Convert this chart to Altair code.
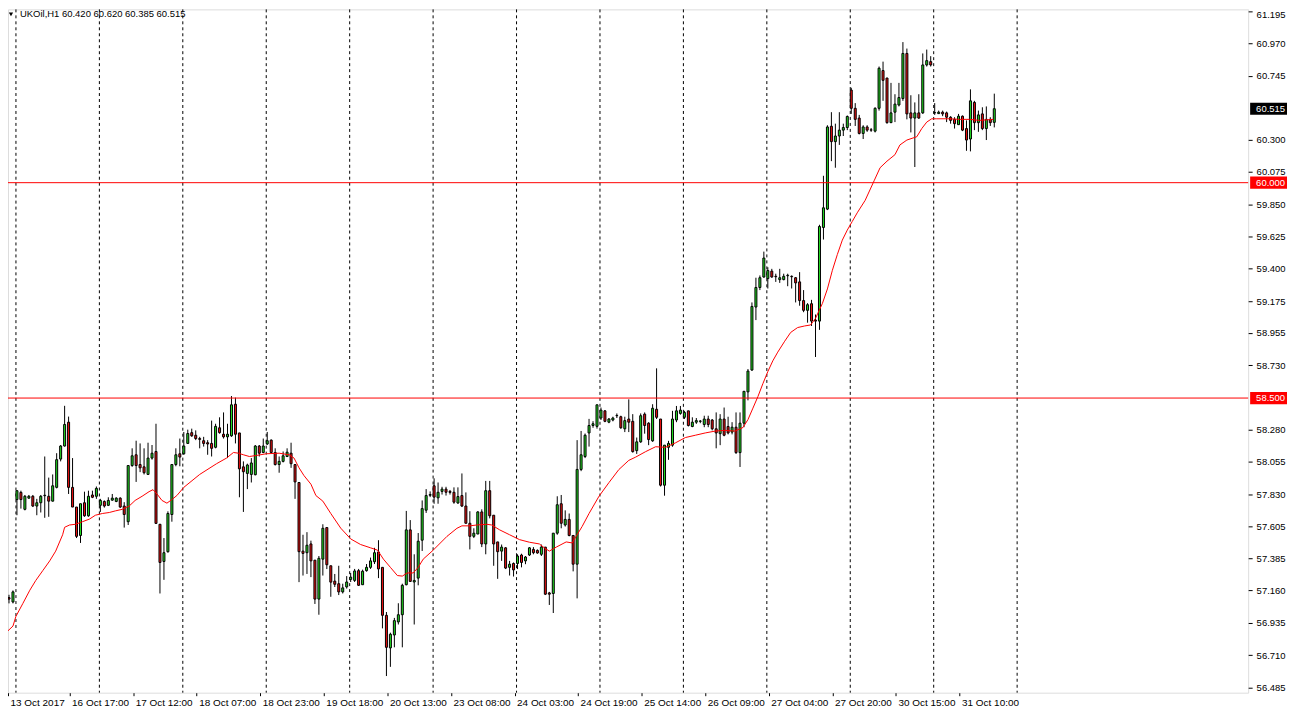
import altair as alt
import pandas as pd

# ---------------- data ----------------
opens = [57.11, 57.08, 57.793, 57.843, 57.725, 57.803, 57.816, 57.748, 57.771, 57.820,
         57.816, 57.782, 57.878, 58.075, 58.166, 58.332, 57.878, 57.741, 57.543, 57.771,
         57.680, 57.825, 57.816, 57.753, 57.780, 57.753, 57.789, 57.780, 57.803, 57.748,
         57.639, 58.030, 58.105, 58.037, 58.021, 57.968, 58.082, 58.128, 57.621, 57.362,
         57.430, 57.689, 58.037, 58.112, 58.112, 58.184, 58.259, 58.241, 58.218, 58.203,
         58.189, 58.184, 58.157, 58.293, 58.248, 58.230, 58.237, 58.457, 58.257, 58.021,
         57.975, 57.968, 57.966, 58.166, 58.121, 58.180, 58.207, 58.121, 58.037, 58.059,
         58.093, 58.116, 58.037, 57.912, 57.434, 57.423, 57.484, 57.371, 57.100, 57.378,
         57.598, 57.332, 57.225, 57.207, 57.150, 57.185, 57.237, 57.230, 57.298, 57.200,
         57.298, 57.321, 57.360, 57.428, 57.321, 56.987, 56.760, 56.850, 56.941, 56.991,
         57.200, 57.582, 57.219, 57.246, 57.510, 57.719, 57.823, 57.889, 57.805, 57.850,
         57.866, 57.850, 57.844, 57.769, 57.821, 57.748, 57.628, 57.537, 57.553, 57.707,
         57.484, 57.855, 57.684, 57.498, 57.434, 57.457, 57.321, 57.348, 57.348, 57.407,
         57.366, 57.407, 57.446, 57.439, 57.412, 57.462, 57.143, 57.139, 57.559, 57.764,
         57.616, 57.655, 57.543, 57.343, 58.003, 58.093, 58.257, 58.309, 58.303, 58.361,
         58.411, 58.332, 58.347, 58.377, 58.370, 58.286, 58.354, 58.338, 58.134, 58.195,
         58.388, 58.325, 58.202, 58.422, 58.354, 57.893, 58.157, 58.172, 58.347, 58.393,
         58.366, 58.411, 58.302, 58.332, 58.338, 58.316, 58.354, 58.347, 58.286, 58.252,
         58.354, 58.302, 58.263, 58.297, 58.120, 58.325, 58.543, 58.695, 59.134, 59.270,
         59.343, 59.332, 59.384, 59.348, 59.325, 59.325, 59.352, 59.348, 59.338, 59.309,
         59.179, 59.111, 59.157, 59.043, 59.036, 59.688, 59.816, 60.393, 60.286, 60.325,
         60.366, 60.384, 60.645, 60.518, 60.450, 60.343, 60.388, 60.368, 60.359, 60.518,
         60.781, 60.729, 60.418, 60.491, 60.541, 60.586, 60.900, 60.486, 60.450, 60.486,
         60.486, 60.820, 60.843, 60.486, 60.481, 60.491, 60.486, 60.456, 60.441, 60.404,
         60.463, 60.377, 60.304, 60.559, 60.418, 60.479, 60.377, 60.441, 60.420]
highs = [57.13, 57.16, 57.855, 57.855, 57.825, 57.825, 57.825, 57.798, 57.825, 58.093,
         57.946, 57.968, 58.116, 58.173, 58.446, 58.371, 58.082, 57.741, 57.764, 57.848,
         57.855, 57.855, 57.884, 57.798, 57.787, 57.809, 57.832, 57.809, 57.809, 57.775,
         58.030, 58.150, 58.203, 58.184, 58.150, 58.189, 58.173, 58.321, 57.621, 57.525,
         57.711, 58.037, 58.150, 58.218, 58.264, 58.280, 58.287, 58.275, 58.230, 58.230,
         58.207, 58.343, 58.321, 58.366, 58.400, 58.321, 58.514, 58.503, 58.257, 58.059,
         58.043, 58.082, 58.173, 58.173, 58.218, 58.264, 58.212, 58.150, 58.093, 58.128,
         58.150, 58.189, 58.037, 57.912, 57.548, 57.566, 57.507, 57.371, 57.400, 57.621,
         57.598, 57.332, 57.275, 57.332, 57.207, 57.260, 57.282, 57.310, 57.310, 57.305,
         57.344, 57.389, 57.457, 57.510, 57.321, 57.010, 56.866, 56.969, 57.071, 57.207,
         57.714, 57.650, 57.412, 57.560, 57.787, 57.866, 57.850, 57.941, 57.912, 57.882,
         57.882, 57.860, 57.878, 57.878, 57.975, 57.843, 57.712, 57.593, 57.712, 57.725,
         57.923, 57.923, 57.684, 57.498, 57.480, 57.462, 57.366, 57.355, 57.412, 57.416,
         57.400, 57.462, 57.462, 57.446, 57.480, 57.462, 57.150, 57.559, 57.816, 57.825,
         57.718, 57.696, 57.543, 58.207, 58.271, 58.253, 58.355, 58.339, 58.453, 58.434,
         58.416, 58.361, 58.370, 58.393, 58.377, 58.370, 58.491, 58.388, 58.225, 58.393,
         58.400, 58.332, 58.457, 58.707, 58.354, 58.172, 58.202, 58.411, 58.445, 58.445,
         58.411, 58.411, 58.366, 58.361, 58.347, 58.377, 58.377, 58.354, 58.400, 58.388,
         58.434, 58.370, 58.332, 58.400, 58.400, 58.547, 58.702, 59.166, 59.338, 59.354,
         59.520, 59.411, 59.400, 59.366, 59.400, 59.366, 59.366, 59.354, 59.343, 59.377,
         59.252, 59.161, 59.184, 59.082, 59.707, 60.048, 60.400, 60.491, 60.411, 60.491,
         60.411, 60.468, 60.661, 60.554, 60.472, 60.400, 60.400, 60.381, 60.525, 60.809,
         60.843, 60.729, 60.695, 60.616, 60.695, 60.979, 60.934, 60.609, 60.559, 60.616,
         60.900, 60.927, 60.881, 60.554, 60.502, 60.502, 60.495, 60.463, 60.456, 60.479,
         60.468, 60.434, 60.650, 60.570, 60.502, 60.525, 60.531, 60.456, 60.620]
lows = [57.07, 57.07, 57.684, 57.730, 57.718, 57.798, 57.741, 57.684, 57.703, 57.666,
        57.673, 57.780, 57.871, 58.059, 58.162, 57.832, 57.741, 57.525, 57.491, 57.673,
        57.673, 57.803, 57.798, 57.707, 57.737, 57.748, 57.785, 57.775, 57.734, 57.598,
        57.616, 58.021, 57.916, 57.984, 57.968, 57.968, 58.071, 57.627, 57.139, 57.234,
        57.423, 57.639, 58.025, 58.025, 58.105, 58.180, 58.230, 58.207, 58.150, 58.162,
        58.105, 58.093, 58.150, 58.252, 58.218, 58.082, 58.230, 58.184, 57.809, 57.707,
        57.866, 57.912, 57.962, 58.093, 58.116, 58.173, 58.116, 58.030, 57.980, 58.052,
        58.089, 58.014, 57.798, 57.218, 57.264, 57.275, 57.253, 57.066, 56.991, 57.264,
        57.309, 57.116, 57.184, 57.128, 57.139, 57.173, 57.219, 57.219, 57.191, 57.200,
        57.291, 57.310, 57.344, 57.246, 56.896, 56.564, 56.628, 56.764, 56.923, 56.764,
        57.196, 57.219, 56.923, 57.196, 57.435, 57.700, 57.810, 57.764, 57.764, 57.828,
        57.821, 57.828, 57.764, 57.764, 57.741, 57.628, 57.446, 57.525, 57.553, 57.462,
        57.412, 57.662, 57.332, 57.241, 57.366, 57.309, 57.264, 57.257, 57.309, 57.321,
        57.343, 57.400, 57.412, 57.416, 57.400, 57.128, 57.059, 57.003, 57.548, 57.593,
        57.605, 57.537, 57.293, 57.105, 57.991, 58.082, 58.162, 58.293, 58.287, 58.347,
        58.332, 58.325, 58.338, 58.361, 58.286, 58.263, 58.263, 58.120, 58.111, 58.188,
        58.252, 58.172, 58.195, 58.354, 57.884, 57.820, 58.070, 58.161, 58.332, 58.384,
        58.354, 58.302, 58.297, 58.320, 58.325, 58.297, 58.297, 58.275, 58.150, 58.172,
        58.234, 58.247, 58.247, 58.111, 58.020, 58.297, 58.484, 58.690, 59.043, 59.252,
        59.338, 59.263, 59.338, 59.309, 59.302, 59.320, 59.279, 59.263, 59.166, 59.143,
        59.098, 59.025, 59.002, 58.786, 58.975, 59.604, 59.809, 60.150, 60.104, 60.263,
        60.325, 60.366, 60.479, 60.395, 60.336, 60.304, 60.354, 60.354, 60.350, 60.502,
        60.570, 60.411, 60.418, 60.422, 60.531, 60.570, 60.441, 60.350, 60.109, 60.445,
        60.479, 60.809, 60.809, 60.472, 60.479, 60.463, 60.422, 60.411, 60.377, 60.404,
        60.359, 60.222, 60.218, 60.366, 60.354, 60.366, 60.297, 60.395, 60.385]
closes = [57.10, 57.15, 57.855, 57.793, 57.816, 57.816, 57.748, 57.771, 57.816, 57.823,
          57.782, 57.889, 58.071, 58.166, 58.316, 57.878, 57.741, 57.537, 57.764, 57.680,
          57.816, 57.809, 57.871, 57.787, 57.748, 57.787, 57.803, 57.803, 57.741, 57.689,
          58.030, 58.098, 58.030, 58.014, 57.980, 58.082, 58.116, 57.627, 57.355, 57.423,
          57.696, 58.037, 58.105, 58.089, 58.166, 58.253, 58.237, 58.218, 58.212, 58.184,
          58.180, 58.150, 58.303, 58.259, 58.230, 58.248, 58.453, 58.248, 58.007, 57.987,
          58.034, 58.048, 58.166, 58.116, 58.166, 58.203, 58.121, 58.037, 58.059, 58.098,
          58.123, 58.043, 57.916, 57.430, 57.418, 57.475, 57.366, 57.100, 57.384, 57.593,
          57.339, 57.218, 57.203, 57.150, 57.178, 57.219, 57.253, 57.296, 57.196, 57.294,
          57.321, 57.366, 57.423, 57.310, 56.987, 56.764, 56.855, 56.950, 56.991, 57.196,
          57.582, 57.223, 57.230, 57.503, 57.730, 57.821, 57.828, 57.810, 57.844, 57.866,
          57.844, 57.843, 57.775, 57.814, 57.748, 57.628, 57.537, 57.559, 57.707, 57.484,
          57.855, 57.680, 57.484, 57.430, 57.462, 57.316, 57.343, 57.303, 57.400, 57.355,
          57.393, 57.457, 57.423, 57.421, 57.462, 57.134, 57.134, 57.559, 57.757, 57.628,
          57.655, 57.543, 57.343, 58.003, 58.105, 58.241, 58.309, 58.321, 58.453, 58.416,
          58.338, 58.354, 58.361, 58.379, 58.293, 58.343, 58.332, 58.127, 58.195, 58.377,
          58.309, 58.211, 58.429, 58.366, 57.893, 58.172, 58.184, 58.354, 58.411, 58.416,
          58.400, 58.309, 58.332, 58.343, 58.340, 58.354, 58.316, 58.286, 58.257, 58.354,
          58.241, 58.257, 58.297, 58.120, 58.325, 58.547, 58.688, 59.138, 59.270, 59.338,
          59.475, 59.388, 59.343, 59.345, 59.338, 59.348, 59.355, 59.345, 59.302, 59.179,
          59.111, 59.150, 59.036, 59.036, 59.695, 59.825, 60.388, 60.286, 60.325, 60.366,
          60.384, 60.461, 60.518, 60.441, 60.343, 60.388, 60.366, 60.366, 60.518, 60.797,
          60.713, 60.418, 60.486, 60.547, 60.593, 60.900, 60.479, 60.450, 60.486, 60.450,
          60.820, 60.850, 60.820, 60.488, 60.491, 60.479, 60.456, 60.434, 60.411, 60.463,
          60.366, 60.297, 60.570, 60.418, 60.472, 60.377, 60.441, 60.418, 60.515]

# red moving-average line, read at sample positions (bar index, price)
ma_bars = [-0.75, 1.0, 1.75, 3.5, 5.25, 6.75, 8.5, 10.25, 11.75, 13.5, 14.0, 15.25, 16.75,
           18.5, 20.25, 21.75, 23.5, 25.25, 26.75, 28.5, 30.25, 31.75, 33.5, 35.25, 36.25,
           37.25, 38.5, 39.75, 41.0, 42.25, 44.0, 48.0, 52.25, 54.75, 56.5, 57.75, 59.0,
           60.5, 62.25, 64.75, 68.0, 70.5, 71.75, 73.0, 74.25, 76.0, 77.25, 79.0, 81.0,
           83.5, 86.0, 88.5, 91.0, 92.75, 94.25, 96.0, 97.75, 99.0, 100.25, 101.75, 103.0,
           104.25, 106.75, 110.25, 112.75, 114.0, 116.0, 117.75, 120.25, 121.5, 123.5,
           126.0, 128.5, 131.0, 133.5, 134.75, 136.0, 137.75, 140.25, 141.75, 142.75,
           144.25, 146.0, 148.5, 151.0, 153.5, 156.0, 157.75, 160.25, 162.75, 165.25,
           167.75, 170.25, 172.75, 175.25, 177.75, 180.25, 182.75, 184.75, 186.0, 187.25,
           188.5, 189.75, 191.0, 192.25, 193.5, 195.25, 196.75, 198.5, 200.25, 201.75,
           203.0, 204.75, 206.0, 207.25, 208.5, 209.75, 211.0, 212.25, 213.5, 215.5,
           217.75, 219.25, 221.0, 223.0, 224.25, 226.0, 228.5, 229.75, 231.0, 232.25,
           233.5, 236.75, 239.25, 241.75, 244.25, 247.75]
ma_values = [56.866, 56.912, 56.98, 57.07, 57.162, 57.23, 57.298, 57.366, 57.434, 57.548,
             57.600, 57.616, 57.621, 57.639, 57.657, 57.684, 57.696, 57.703, 57.714, 57.725,
             57.748, 57.787, 57.816, 57.848, 57.862, 57.832, 57.787, 57.768, 57.793, 57.821,
             57.878, 57.968, 58.043, 58.082, 58.121, 58.116, 58.105, 58.093, 58.100, 58.112,
             58.116, 58.105, 58.082, 58.014, 57.96, 57.9, 57.821, 57.782, 57.696, 57.594,
             57.519, 57.48, 57.457, 57.441, 57.378, 57.321, 57.264, 57.26, 57.282, 57.282,
             57.321, 57.378, 57.44, 57.537, 57.593, 57.61, 57.61, 57.616, 57.621, 57.616,
             57.582, 57.548, 57.514, 57.496, 57.484, 57.457, 57.434, 57.462, 57.498, 57.491,
             57.537, 57.605, 57.696, 57.816, 57.911, 58.002, 58.066, 58.089, 58.127, 58.161,
             58.157, 58.188, 58.225, 58.241, 58.257, 58.27, 58.275, 58.27, 58.295, 58.35,
             58.43, 58.51, 58.6, 58.684, 58.759, 58.82, 58.896, 58.957, 58.991, 59.002,
             59.009, 59.055, 59.16, 59.26, 59.39, 59.5, 59.6, 59.67, 59.73, 59.79, 59.877,
             60.013, 60.104, 60.15, 60.195, 60.263, 60.297, 60.32, 60.377, 60.422, 60.445,
             60.445, 60.445, 60.441, 60.441, 60.434, 60.441]

time_labels = ["13 Oct 2017", "16 Oct 17:00", "17 Oct 12:00", "18 Oct 07:00",
               "18 Oct 23:00", "19 Oct 18:00", "20 Oct 13:00", "23 Oct 08:00",
               "24 Oct 03:00", "24 Oct 19:00", "25 Oct 14:00", "26 Oct 09:00",
               "27 Oct 04:00", "27 Oct 20:00", "30 Oct 15:00", "31 Oct 10:00"]
time_label_bars = [-0.25, 15.25, 31.25, 47.25, 63.25, 79.25, 95.25, 111.25,
                   127.25, 143.25, 159.25, 175.25, 191.25, 207.25, 223.25, 239.25]
price_labels = [61.195, 60.970, 60.745, 60.300, 60.075, 59.850, 59.625, 59.400,
                59.175, 58.955, 58.730, 58.280, 58.055, 57.830, 57.605, 57.385,
                57.160, 56.935, 56.710, 56.485]
grid_bars = [1.75, 22.75, 43.75, 64.75, 85.75, 106.75, 127.75, 148.75,
             169.75, 190.75, 211.75, 232.75, 253.75]
level_prices = [60.000, 58.500]
tag_prices = [60.000, 58.500, 60.515]
tag_texts = ["60.000", "58.500", "60.515"]
tag_colors = ["#ff0000", "#ff0000", "#000000"]
title_text = "UKOil,H1  60.420 60.620 60.385 60.515"

# ---------------- tables ----------------
bars = pd.DataFrame({"i": list(range(len(opens))), "o": opens, "h": highs,
                     "l": lows, "c": closes})
ma_df = pd.DataFrame({"b": ma_bars, "v": ma_values})
grid_df = pd.DataFrame({"g": grid_bars})
lev_df = pd.DataFrame({"p": level_prices})
tag_df = pd.DataFrame({"p": tag_prices, "t": tag_texts, "col": tag_colors})
title_df = pd.DataFrame({"t": [title_text]})

FONT = "Liberation Sans"
UP = "#22dd22"
DOWN = "#ee1111"

xs = alt.Scale(domain=[-0.25, 311.9], nice=False, zero=False, padding=0)
ys = alt.Scale(domain=[56.448, 61.207], nice=False, zero=False, padding=0)

lab_js = "[" + ",".join("'" + s + "'" for s in time_labels) + "]"
x_axis = alt.Axis(values=time_label_bars,
                  labelExpr=lab_js + "[round((datum.value + 0.75) / 16)]",
                  labelAlign="left", labelBaseline="top", labelPadding=2,
                  labelOffset=2, tickSize=3, tickColor="black", domain=False,
                  grid=False, labelFlush=False, labelOverlap=False,
                  labelFont=FONT, labelFontSize=10, labelColor="black", title=None)
y_axis = alt.Axis(orient="right", values=price_labels, format=".3f",
                  labelFont=FONT, labelFontSize=9.5, labelColor="black",
                  tickColor="black", tickSize=4, labelPadding=4, domain=False,
                  grid=False, title=None, labelOverlap=False,
                  labelBaseline={"condition": {"test": "datum.value > 61.19", "value": "top"},
                                 "value": "middle"},
                  labelOffset={"condition": {"test": "datum.value > 61.19", "value": -2},
                               "value": 0})


def X(field):
    return alt.X(field, scale=xs, axis=x_axis)


def Y(field):
    return alt.Y(field, scale=ys, axis=y_axis)


grid = alt.Chart(grid_df).mark_rule(color="black", strokeDash=[3, 3], strokeWidth=1).encode(
    x=X("g:Q"))

wicks = alt.Chart(bars).mark_rule(color="black", strokeWidth=1).encode(
    x=X("i:Q"), y=Y("l:Q"), y2="h:Q")

bodies = alt.Chart(bars).mark_bar(size=2, stroke="black", strokeWidth=1).encode(
    x=X("i:Q"), y=Y("o:Q"), y2="c:Q",
    color=alt.condition("datum.c >= datum.o", alt.value(UP), alt.value(DOWN)))

ma = alt.Chart(ma_df).mark_line(color="#ff0000", strokeWidth=1, clip=True).encode(
    x=X("b:Q"), y=Y("v:Q"))

levels = alt.Chart(lev_df).mark_rule(color="#ff0000", strokeWidth=1).encode(
    y=Y("p:Q"))

tags = alt.Chart(tag_df).mark_point(
    shape="M-1,-0.33L1,-0.33L1,0.33L-1,0.33Z", size=1369, filled=True,
    opacity=1, strokeWidth=0).encode(
    x=alt.value(1265.5), y=Y("p:Q"),
    color=alt.Color("col:N", scale=None))

tag_text = alt.Chart(tag_df).mark_text(
    align="left", baseline="middle", color="white", font=FONT, fontSize=9.5).encode(
    x=alt.value(1253), y=Y("p:Q"), text="t:N")

title_mark = alt.Chart(title_df).mark_text(
    align="left", baseline="middle", color="black", font=FONT, fontSize=9.5).encode(
    x=alt.value(12), y=alt.value(5), text="t:N")

tri = alt.Chart(title_df).mark_point(
    shape="triangle-down", filled=True, color="black", opacity=1, size=18).encode(
    x=alt.value(3), y=alt.value(5))

chart = alt.layer(grid, wicks, bodies, ma, levels, tags, tag_text, title_mark, tri).properties(
    width=1245, height=686,
    autosize=alt.AutoSizeParams(type="none"),
    padding={"left": 0, "top": 0, "right": 40, "bottom": 18},
).configure_view(stroke="black", strokeWidth=1).configure(background="white")

chart.save("out.html", embed_options={"renderer": "svg", "actions": False})
